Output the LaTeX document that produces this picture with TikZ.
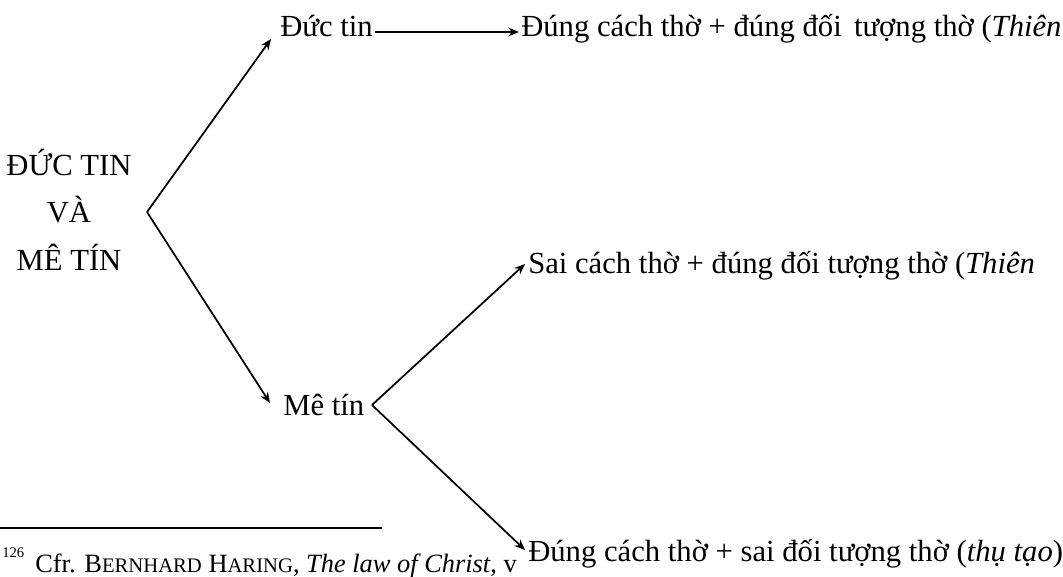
\documentclass[tikz,border=0pt]{standalone}
\usepackage{fontspec}
\setmainfont{Liberation Serif}
\usetikzlibrary{arrows.meta}
\begin{document}
\begin{tikzpicture}[x=0.75pt,y=-0.75pt,
  txt/.style={inner sep=0pt,anchor=base west,font=\fontsize{23pt}{27pt}\selectfont},
  ctr/.style={inner sep=0pt,anchor=base,font=\fontsize{23pt}{27pt}\selectfont},
  link/.style={line width=1.3pt,-{Stealth[length=8pt,width=6.5pt]}},
  sc/.style={font=\fontsize{16pt}{19pt}\selectfont}]
\clip (0,0) rectangle (1063,576);
\fill[white] (0,0) rectangle (1063,576);

% root label
\node[ctr] (r1) at (69,175) {ĐỨC TIN};
\node[ctr] (r2) at (69,222) {VÀ};
\node[ctr] (r3) at (69,270) {MÊ TÍN};

% first level
\node[txt] (dt) at (280,36) {Đức tin};
\node[txt] (mt) at (283,415) {Mê tín};

% outcomes
\node[txt] (o1) at (521,36) {Đúng cách thờ + đúng đối\hspace{0.15em} tượng thờ (\textit{Thiên}};
\node[txt] (o2) at (528,273) {Sai cách thờ + đúng đối tượng thờ (\textit{Thiên}};
\node[txt] (o3) at (528,561) {Đúng cách thờ + sai đối tượng thờ (\textit{thụ tạo})};

% branching points
\coordinate (f1) at (147,212);
\coordinate (f2) at (372,405);

\draw[link] (f1) -- ([shift={(-9,3)}]dt.base west);
\draw[link] (f1) -- ([shift={(-13,-12)}]mt.base west);
\draw[link] ([shift={(2,-4)}]dt.base east) -- ([shift={(-2,-4)}]o1.base west);
\draw[link] (f2) -- ([shift={(-3,-9)}]o2.base west);
\draw[link] (f2) -- ([shift={(-3,-11)}]o3.base west);

% footnote
\draw[line width=1.5pt] (0,528) -- (382,528);
\node[inner sep=0pt,anchor=base west,font=\fontsize{11pt}{13pt}\selectfont] (fn) at (2,557) {126};
\node[inner sep=0pt,anchor=base west,font=\fontsize{19.8pt}{24pt}\selectfont] (ft) at (35,572)
  {Cfr. B{\fontsize{15.5pt}{19pt}\selectfont ERNHARD} H{\fontsize{15.5pt}{19pt}\selectfont ARING}, \textit{The law of Christ}, v};
\end{tikzpicture}
\end{document}
